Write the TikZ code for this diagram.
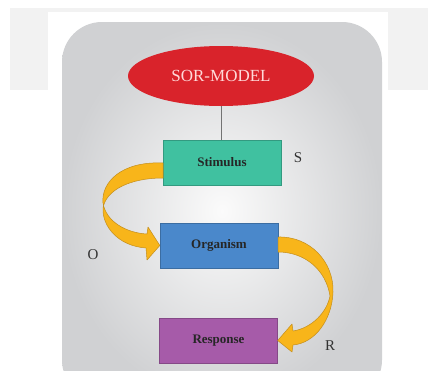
\documentclass[tikz,border=0pt]{standalone}
\usepackage{fontspec}
\setmainfont{Liberation Serif}
\usetikzlibrary{shapes.geometric}
\definecolor{sorred}{HTML}{D9232B}
\definecolor{stimfill}{HTML}{40C1A0}
\definecolor{orgfill}{HTML}{4A88CB}
\definecolor{respfill}{HTML}{A65BA9}
\definecolor{arrowfill}{HTML}{F8B51A}
\definecolor{arrowdraw}{HTML}{C48E1C}
\definecolor{bgband}{HTML}{F2F2F2}
\definecolor{grayedge}{HTML}{D0D1D3}
\definecolor{graycenter}{HTML}{FBFBFB}
\definecolor{labelgray}{HTML}{333333}
\tikzset{
  box/.style={draw=#1!80!black, line width=0.4pt, fill=#1, minimum width=118pt, minimum height=45pt, inner sep=0pt, font=\fontsize{13}{15}\selectfont\bfseries, text=black!85},
  sidelabel/.style={font=\fontsize{15}{17}\selectfont, text=labelgray},
  bigarrow/.style={fill=arrowfill, draw=arrowdraw, line width=0.5pt, line join=round},
}
\begin{document}
\begin{tikzpicture}[x=1pt,y=-1pt]
\useasboundingbox (0,0) rectangle (435,370);
\fill[bgband] (10,8) rectangle (428,90);
\fill[white] (48,12) rectangle (388,370);
\begin{scope}
\clip (0,0) rectangle (435,370);
\shade[inner color=graycenter, outer color=grayedge, rounded corners=40pt] (62,22) rectangle (382,400);
\end{scope}

\node[ellipse, fill=sorred, minimum width=186pt, minimum height=60pt, inner sep=0pt,
      text=red!15, font=\fontsize{17}{19}\selectfont] (model) at (221,76) {SOR-MODEL};
\node[box=stimfill] (stim) at (222,162.5) {Stimulus};
\node[box=orgfill] (org) at (219,245.5) {Organism};
\node[box=respfill] (resp) at (218.5,340.5) {Response};

\draw[black!55, line width=0.6pt] (model.south) -- (stim.north -| model.south);

\node[sidelabel] (slab) at (298,158) {S};
\node[sidelabel] (olab) at (93,255) {O};
\node[sidelabel] (rlab) at (330,346) {R};

% curved arrow Stimulus -> Organism
\path[bigarrow] (163,163) .. controls (122,161) and (101,182) .. (103,203)
  .. controls (106,222) and (127,233) .. (147,234) -- (148,227) -- (org.west)
  -- (147,260) -- (146,248) .. controls (118,246) and (102,226) .. (103,208)
  .. controls (106,190) and (130,178) .. (163,178) -- cycle;

% curved arrow Organism -> Response
\path[bigarrow] (278,237) .. controls (310,236) and (334,262) .. (333,292)
  .. controls (332,320) and (315,343) .. (293,345) -- (292,352) -- (resp.east)
  -- (292,324) -- (293,331) .. controls (312,328) and (327,312) .. (330,296)
  .. controls (326,270) and (305,252) .. (278,252) -- cycle;
\end{tikzpicture}
\end{document}
